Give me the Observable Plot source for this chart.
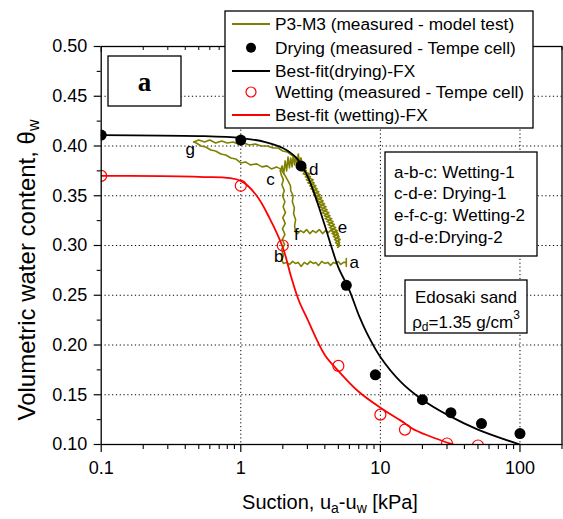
<!DOCTYPE html>
<html>
<head>
<meta charset="utf-8">
<script src="https://cdn.jsdelivr.net/npm/d3@7"></script>
<script src="https://cdn.jsdelivr.net/npm/@observablehq/plot@0.6"></script>
<style>
  html, body { margin: 0; padding: 0; background: #fff; }
  #chart { width: 563px; height: 519px; }
</style>
</head>
<body>
<div id="chart"></div>
<script>
// Tempe cell measurements, drying branch (suction kPa, volumetric water content)
const drySuction = [0.1, 1.0, 2.7, 5.7, 9.2, 20, 32, 53, 100];
const dryTheta   = [0.411, 0.406, 0.380, 0.260, 0.170, 0.145, 0.132, 0.121, 0.111];

// Tempe cell measurements, wetting branch
const wetSuction = [0.1, 1.0, 2.0, 5.0, 10, 15, 30, 50];
const wetTheta   = [0.370, 0.360, 0.300, 0.179, 0.130, 0.115, 0.101, 0.099];

// Fredlund–Xing best-fit curves
const dryFitSuction = [0.1, 0.5, 1, 1.5, 2, 2.5, 3, 3.5, 4, 4.5, 5, 6, 7, 8, 10, 14, 20, 30, 50, 100];
const dryFitTheta   = [0.411, 0.410, 0.408, 0.404, 0.398, 0.388, 0.370, 0.345, 0.320, 0.297, 0.278, 0.255, 0.230, 0.212, 0.188, 0.163, 0.145, 0.130, 0.115, 0.100];
const wetFitSuction = [0.1, 0.5, 1, 1.3, 1.6, 2, 2.3, 2.6, 3, 4, 5, 7, 10, 14, 18, 25, 35, 40];
const wetFitTheta   = [0.370, 0.369, 0.365, 0.350, 0.328, 0.298, 0.268, 0.245, 0.226, 0.190, 0.174, 0.153, 0.137, 0.124, 0.114, 0.106, 0.099, 0.097];

// P3-M3 model test record, split by hysteresis branch: [suction, theta]
const wetting1 = [[5.7,0.287],[5.7,0.279],[5.7,0.283],[5.45,0.283],[5.2,0.281],[5.0,0.284],[4.8,0.282],[4.6,0.283],[4.4,0.280],[4.2,0.283],[4.0,0.282],[3.8,0.284],[3.6,0.280],[3.45,0.283],[3.3,0.282],[3.15,0.284],[3.0,0.281],[2.85,0.283],[2.7,0.279],[2.58,0.283],[2.46,0.282],[2.35,0.284],[2.24,0.281],[2.12,0.283],[2.02,0.282],[1.97,0.285],[2.02,0.290],[1.96,0.296],[2.06,0.301],[1.98,0.306],[2.07,0.311],[1.99,0.317],[2.08,0.322],[2.0,0.328],[2.09,0.333],[2.01,0.339],[2.07,0.344],[1.99,0.350],[2.05,0.355],[1.97,0.361],[2.02,0.366],[1.95,0.371],[1.92,0.375]];
const drying1 = [[1.92,0.375],[1.98,0.380],[2.03,0.372],[2.08,0.385],[2.13,0.375],[2.18,0.389],[2.23,0.378],[2.28,0.388],[2.33,0.379],[2.38,0.391],[2.43,0.381],[2.48,0.389],[2.53,0.382],[2.58,0.392],[2.64,0.383],[2.70,0.388],[2.76,0.381],[2.62,0.381],[2.95,0.378],[2.75,0.375],[3.12,0.372],[2.90,0.369],[3.30,0.366],[3.02,0.363],[3.45,0.360],[3.18,0.357],[3.62,0.354],[3.33,0.351],[3.80,0.348],[3.48,0.345],[3.98,0.342],[3.66,0.339],[4.16,0.336],[3.84,0.333],[4.36,0.330],[4.02,0.327],[4.58,0.324],[4.22,0.321],[4.78,0.318],[4.42,0.315],[4.98,0.312],[4.60,0.309],[5.15,0.306],[4.78,0.303],[5.12,0.300],[4.95,0.298],[5.05,0.301]];
const wetting2 = [[5.05,0.301],[5.0,0.309],[4.85,0.315],[4.65,0.312],[4.45,0.316],[4.25,0.313],[4.05,0.315],[3.85,0.312],[3.65,0.316],[3.45,0.313],[3.28,0.315],[3.12,0.312],[2.96,0.316],[2.82,0.313],[2.68,0.315],[2.56,0.312],[2.46,0.314],[2.43,0.320],[2.47,0.326],[2.39,0.332],[2.42,0.338],[2.34,0.344],[2.37,0.350],[2.28,0.355],[2.27,0.360],[2.18,0.365],[2.10,0.369],[2.02,0.373],[1.92,0.377],[1.80,0.379],[1.66,0.377],[1.54,0.380],[1.42,0.379],[1.30,0.382],[1.17,0.381],[1.08,0.384],[1.0,0.383],[0.92,0.387],[0.85,0.388],[0.78,0.391],[0.72,0.392],[0.66,0.395],[0.61,0.396],[0.56,0.399],[0.52,0.400],[0.48,0.403],[0.46,0.404]];
const drying2 = [[0.46,0.404],[0.50,0.406],[0.55,0.404],[0.60,0.406],[0.66,0.403],[0.73,0.405],[0.80,0.403],[0.88,0.404],[0.96,0.402],[1.05,0.403],[1.15,0.401],[1.27,0.402],[1.40,0.400],[1.55,0.400],[1.70,0.398],[1.85,0.398],[2.0,0.395],[2.15,0.394],[2.30,0.391],[2.45,0.389],[2.58,0.386],[2.70,0.383],[2.85,0.378],[2.95,0.375],[2.80,0.372],[3.15,0.369],[2.95,0.366],[3.35,0.363],[3.12,0.360],[3.52,0.357],[3.28,0.354],[3.70,0.351],[3.44,0.348],[3.88,0.345],[3.60,0.342],[4.08,0.339],[3.78,0.336],[4.28,0.333],[3.96,0.330],[4.48,0.327],[4.14,0.324],[4.68,0.321],[4.32,0.318],[4.88,0.315],[4.50,0.312],[5.05,0.309],[4.70,0.306],[5.10,0.303],[4.90,0.300]];

// Branch point labels
const letterText    = ["a", "b", "c", "d", "e", "f", "g"];
const letterSuction = [6.5, 1.87, 1.63, 3.33, 5.35, 2.5, 0.435];
const letterTheta   = [0.283, 0.289, 0.366, 0.376, 0.318, 0.311, 0.396];

// Axis ticks
const xTicks = [0.1, 1, 10, 100];
const xTickLabels = ["0.1", "1", "10", "100"];
const xMinor = [0.2,0.3,0.4,0.5,0.6,0.7,0.8,0.9,2,3,4,5,6,7,8,9,20,30,40,50,60,70,80,90,200];
const xGrid = [1, 10, 100];
const yTicks = [0.10, 0.15, 0.20, 0.25, 0.30, 0.35, 0.40, 0.45, 0.50];
const yMinor = [0.125, 0.175, 0.225, 0.275, 0.325, 0.375, 0.425, 0.475];
const yGrid = [0.15, 0.20, 0.25, 0.30, 0.35, 0.40, 0.45];

// Legend entries and annotation text
const legendLabels = ["P3-M3 (measured - model test)", "Drying (measured - Tempe cell)", "Best-fit(drying)-FX", "Wetting (measured - Tempe cell)", "Best-fit (wetting)-FX"];
const pathNotes = ["a-b-c: Wetting-1", "c-d-e: Drying-1", "e-f-c-g: Wetting-2", "g-d-e:Drying-2"];

const OLIVE = "#808000";
const FONT = "'Liberation Sans', Arial, Helvetica, sans-serif";

const zip = (xs, ys) => xs.map((x, i) => ({s: x, t: ys[i]}));
const pairs = arr => arr.map(([s, t]) => ({s, t}));

const dryPts = zip(drySuction, dryTheta);
const wetPts = zip(wetSuction, wetTheta);
const dryFit = zip(dryFitSuction, dryFitTheta);
const wetFit = zip(wetFitSuction, wetFitTheta);
const letters = letterText.map((txt, i) => ({txt, s: letterSuction[i], t: letterTheta[i]}));
const modelLine = (arr) => Plot.line(pairs(arr), {x: "s", y: "t", stroke: OLIVE, strokeWidth: 1.6, clip: true});

const plot = Plot.plot({
  width: 563,
  height: 519,
  marginTop: 46,
  marginRight: 1.5,
  marginBottom: 75,
  marginLeft: 100.7,
  style: {fontFamily: FONT, fontSize: "18px", background: "white", color: "black", overflow: "visible"},
  x: {type: "log", domain: [0.1, 200], axis: null},
  y: {domain: [0.10, 0.50], axis: null},
  marks: [
    Plot.gridX({ticks: xGrid, stroke: "black", strokeOpacity: 1, strokeWidth: 1, strokeDasharray: "1.2,2.6"}),
    Plot.gridY({ticks: yGrid, stroke: "black", strokeOpacity: 1, strokeWidth: 1, strokeDasharray: "1.2,2.6"}),
    modelLine(wetting1),
    modelLine(drying1),
    modelLine(wetting2),
    modelLine(drying2),
    Plot.line(dryFit, {x: "s", y: "t", stroke: "black", strokeWidth: 1.8, curve: "catmull-rom", clip: true}),
    Plot.line(wetFit, {x: "s", y: "t", stroke: "#ff0000", strokeWidth: 1.8, curve: "catmull-rom", clip: true}),
    Plot.dot(dryPts, {x: "s", y: "t", r: 5.5, fill: "black", stroke: "none", clip: true}),
    Plot.dot(wetPts, {x: "s", y: "t", r: 5.5, fill: "none", stroke: "#ff0000", strokeWidth: 1.2, clip: true}),
    Plot.text(letters, {x: "s", y: "t", text: "txt", fontSize: 17, fill: "black"}),
    Plot.frame({stroke: "black", strokeWidth: 1.3}),
    Plot.axisX({ticks: xTicks, tickSize: 8, tickPadding: 9, tickFormat: d => xTickLabels[xTicks.indexOf(d)], fontSize: 18, label: null, strokeWidth: 1.2}),
    Plot.axisX({ticks: xMinor, tickSize: 5, tickFormat: () => "", label: null, strokeWidth: 1.1}),
    Plot.axisX({anchor: "top", ticks: xTicks, tickSize: -5, tickFormat: () => "", label: null, strokeWidth: 1}),
    Plot.axisX({anchor: "top", ticks: xMinor, tickSize: -3, tickFormat: () => "", label: null, strokeWidth: 1}),
    Plot.axisY({ticks: yTicks, tickSize: 7, tickPadding: 7, tickFormat: d3.format(".2f"), fontSize: 18, label: null, strokeWidth: 1.2}),
    Plot.axisY({ticks: yMinor, tickSize: 4, tickFormat: () => "", label: null, strokeWidth: 1.1})
  ]
});

const svg = d3.select(plot).attr("font-family", FONT);
const over = svg.append("g").attr("fill", "black");

// Axis titles
const xt = over.append("text").attr("x", 330).attr("y", 502)
  .attr("text-anchor", "middle").attr("dominant-baseline", "central").attr("font-size", 20);
xt.append("tspan").text("Suction, u");
xt.append("tspan").attr("font-size", 14).attr("dy", 6).text("a");
xt.append("tspan").attr("dy", -6).text("-u");
xt.append("tspan").attr("font-size", 14).attr("dy", 6).text("w");
xt.append("tspan").attr("dy", -6).text(" [kPa]");

const yt = over.append("text").attr("transform", "translate(26,270) rotate(-90)")
  .attr("text-anchor", "middle").attr("dominant-baseline", "central").attr("font-size", 24);
yt.append("tspan").text("Volumetric water content, \u03B8");
yt.append("tspan").attr("font-size", 16).attr("dy", 7).text("w");

// Panel tag
over.append("rect").attr("x", 108).attr("y", 56).attr("width", 73).attr("height", 50)
  .attr("fill", "white").attr("stroke", "black").attr("stroke-width", 1.3);
over.append("text").attr("x", 144.5).attr("y", 82).attr("text-anchor", "middle")
  .attr("dominant-baseline", "central").attr("font-family", "'Liberation Serif', 'Times New Roman', serif")
  .attr("font-weight", "bold").attr("font-size", 27).text("a");

// Hysteresis path notes
over.append("rect").attr("x", 385).attr("y", 152).attr("width", 152).attr("height", 104)
  .attr("fill", "white").attr("stroke", "black").attr("stroke-width", 1.3);
const noteY = [172, 193.5, 215, 237];
pathNotes.forEach((txt, i) => {
  over.append("text").attr("x", 394).attr("y", noteY[i]).attr("text-anchor", "start")
    .attr("dominant-baseline", "central").attr("font-size", 17).text(txt);
});

// Soil description
over.append("rect").attr("x", 405).attr("y", 280).attr("width", 122).attr("height", 53)
  .attr("fill", "white").attr("stroke", "black").attr("stroke-width", 1.3);
over.append("text").attr("x", 466).attr("y", 297).attr("text-anchor", "middle")
  .attr("dominant-baseline", "central").attr("font-size", 17).text("Edosaki sand");
const rho = over.append("text").attr("x", 466).attr("y", 322).attr("text-anchor", "middle")
  .attr("dominant-baseline", "central").attr("font-size", 17);
rho.append("tspan").text("\u03C1");
rho.append("tspan").attr("font-size", 12).attr("dy", 5).text("d");
rho.append("tspan").attr("dy", -5).text("=1.35 g/cm");
rho.append("tspan").attr("font-size", 12).attr("dy", -7).text("3");

// Legend
const lg = svg.append("g");
lg.append("rect").attr("x", 225).attr("y", 11).attr("width", 308).attr("height", 117)
  .attr("fill", "white").attr("stroke", "black").attr("stroke-width", 1.3);
const rowY = [24, 47.7, 71, 92, 115];
const sx0 = 232, sx1 = 270, sxc = 251, tx = 275;
lg.append("line").attr("x1", sx0).attr("x2", sx1).attr("y1", rowY[0]).attr("y2", rowY[0]).attr("stroke", OLIVE).attr("stroke-width", 1.8);
lg.append("circle").attr("cx", sxc).attr("cy", rowY[1]).attr("r", 5).attr("fill", "black");
lg.append("line").attr("x1", sx0).attr("x2", sx1).attr("y1", rowY[2]).attr("y2", rowY[2]).attr("stroke", "black").attr("stroke-width", 1.8);
lg.append("circle").attr("cx", sxc).attr("cy", rowY[3]).attr("r", 5).attr("fill", "none").attr("stroke", "#ff0000").attr("stroke-width", 1.2);
lg.append("line").attr("x1", sx0).attr("x2", sx1).attr("y1", rowY[4]).attr("y2", rowY[4]).attr("stroke", "#ff0000").attr("stroke-width", 1.8);
legendLabels.forEach((txt, i) => {
  lg.append("text").attr("x", tx).attr("y", rowY[i]).attr("text-anchor", "start")
    .attr("dominant-baseline", "central").attr("font-size", 17.3).attr("fill", "black").text(txt);
});

document.getElementById("chart").appendChild(plot);
</script>
</body>
</html>
